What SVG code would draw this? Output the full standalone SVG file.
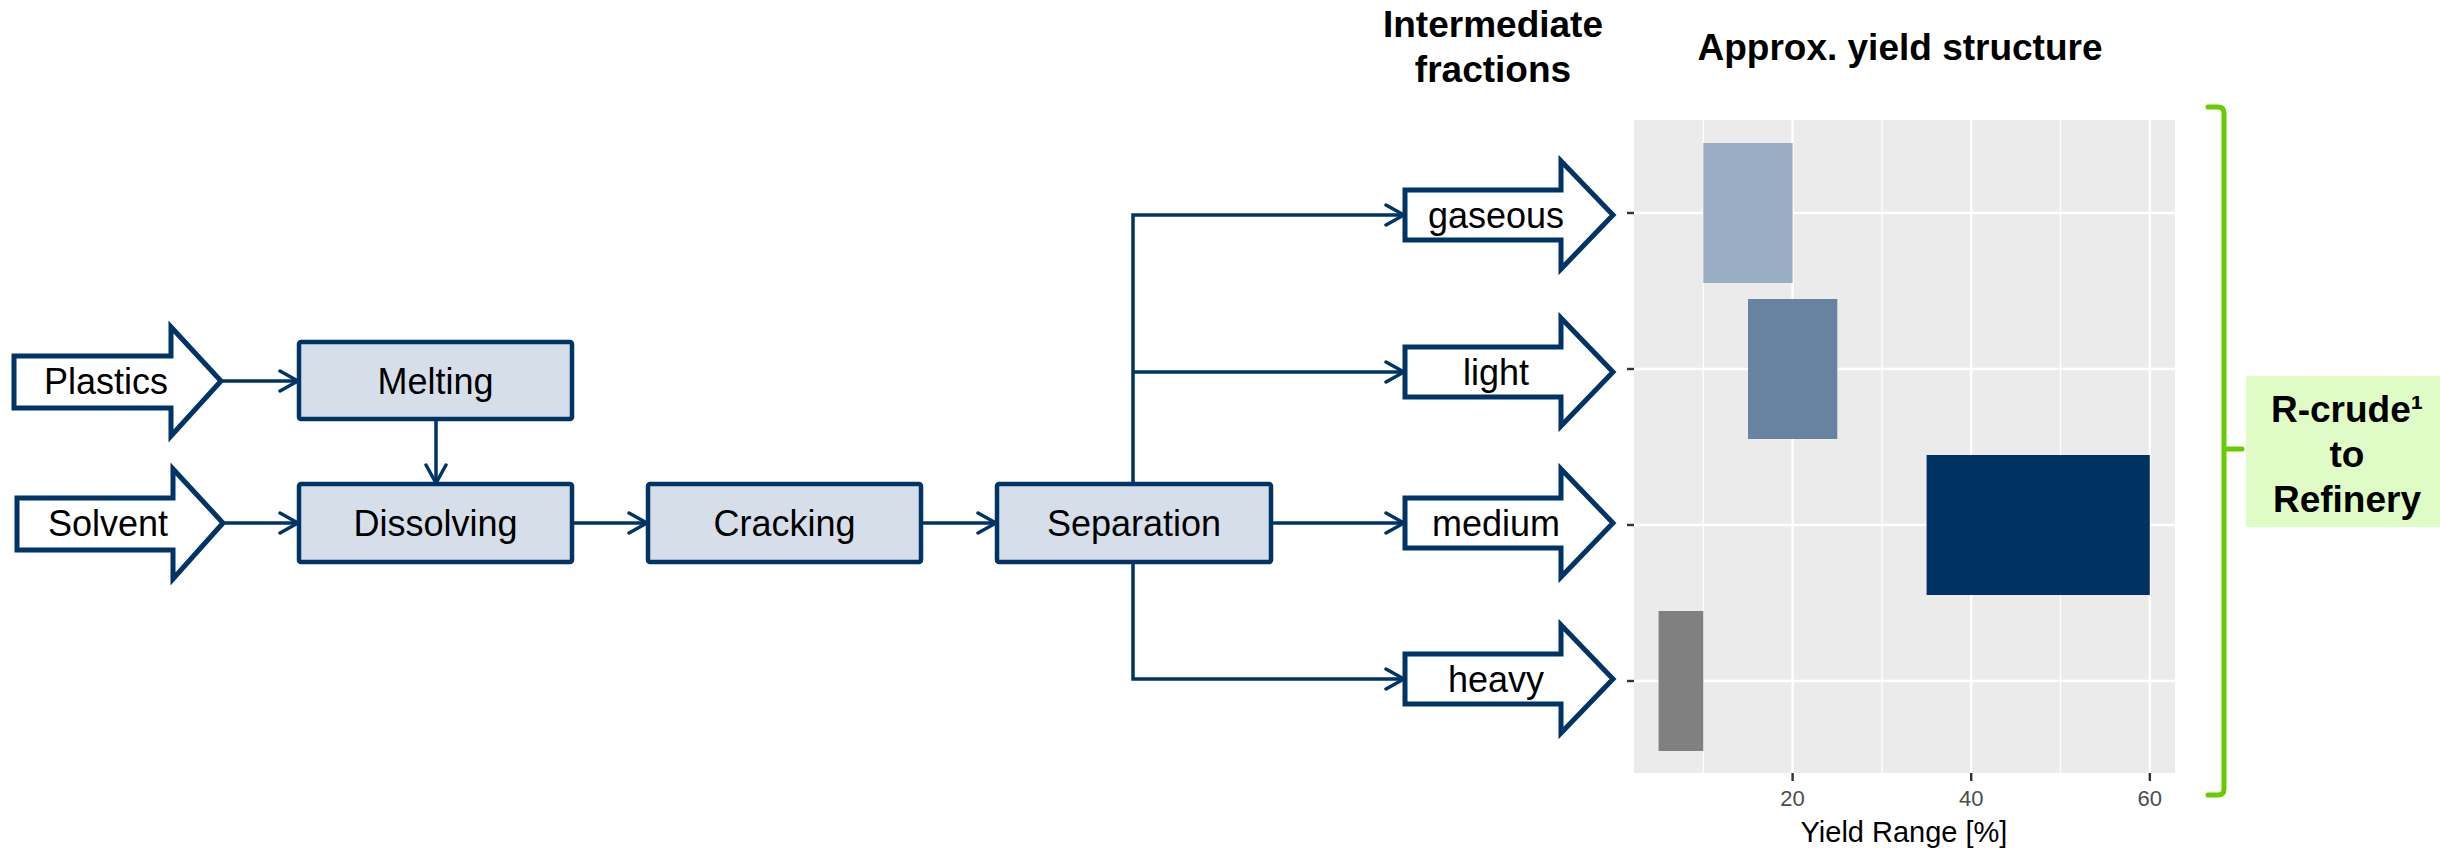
<svg xmlns="http://www.w3.org/2000/svg" width="2440" height="850" viewBox="0 0 2440 850">
<style>
.box{fill:#D6DFE9;stroke:#003366;stroke-width:4.5}
.arr{fill:#FFFFFF;stroke:#003366;stroke-width:5;stroke-linejoin:miter}
.lbl{font-family:"Liberation Sans",Arial,sans-serif;font-size:36px;fill:#000;text-anchor:middle}
.ttl{font-family:"Liberation Sans",Arial,sans-serif;font-size:37px;font-weight:bold;fill:#000;text-anchor:middle}
.con{fill:none;stroke:#003366;stroke-width:3.5;stroke-linejoin:miter}
.gmaj{stroke:#FFFFFF;stroke-width:2.4}
.gmin{stroke:#FFFFFF;stroke-width:1.2}
.tick{stroke:#333333;stroke-width:2.4}
.tl{font-family:"Liberation Sans",Arial,sans-serif;font-size:22px;fill:#4D4D4D;text-anchor:middle}
</style>
<defs>
<marker id="ah" viewBox="0 0 24 24" markerWidth="24" markerHeight="24" refX="21" refY="12" orient="auto" markerUnits="userSpaceOnUse">
<path d="M3,2 L21,12 L3,22" fill="none" stroke="#003366" stroke-width="3.5" stroke-linecap="round" stroke-linejoin="miter"/>
</marker>
</defs>
<rect width="2440" height="850" fill="#FFFFFF"/>

<g id="titles">
<text class="ttl" x="1493" y="37">Intermediate</text>
<text class="ttl" x="1493" y="82">fractions</text>
<text class="ttl" x="1900" y="60">Approx. yield structure</text>
</g>

<g id="connectors">
<path class="con" d="M221,381 L298,381" marker-end="url(#ah)"/>
<path class="con" d="M223,523 L298,523" marker-end="url(#ah)"/>
<path class="con" d="M436,419 L436,483" marker-end="url(#ah)"/>
<path class="con" d="M572,523 L647,523" marker-end="url(#ah)"/>
<path class="con" d="M921,523 L996,523" marker-end="url(#ah)"/>
<path class="con" d="M1133,484 L1133,215 L1404,215" marker-end="url(#ah)"/>
<path class="con" d="M1133,372 L1404,372" marker-end="url(#ah)"/>
<path class="con" d="M1271,523 L1404,523" marker-end="url(#ah)"/>
<path class="con" d="M1133,562 L1133,679 L1404,679" marker-end="url(#ah)"/>
</g>

<g id="plastics">
<polygon class="arr" points="14,356 171,356 171,327 221,381 171,436 171,408 14,408"/>
<text class="lbl" x="106" y="394">Plastics</text>
</g>
<g id="solvent">
<polygon class="arr" points="17,498 173,498 173,469 223,523 173,579 173,550 17,550"/>
<text class="lbl" x="108" y="536">Solvent</text>
</g>
<g id="melting">
<rect class="box" x="299" y="342" width="273" height="77" rx="2"/>
<text class="lbl" x="435.5" y="394">Melting</text>
</g>
<g id="dissolving">
<rect class="box" x="299" y="484" width="273" height="78" rx="2"/>
<text class="lbl" x="435.5" y="536">Dissolving</text>
</g>
<g id="cracking">
<rect class="box" x="648" y="484" width="273" height="78" rx="2"/>
<text class="lbl" x="784.5" y="536">Cracking</text>
</g>
<g id="separation">
<rect class="box" x="997" y="484" width="274" height="78" rx="2"/>
<text class="lbl" x="1134" y="536">Separation</text>
</g>

<g id="gaseous">
<polygon class="arr" points="1405,190 1561,190 1561,161 1613,215 1561,269 1561,240 1405,240"/>
<text class="lbl" x="1496" y="228">gaseous</text>
</g>
<g id="light">
<polygon class="arr" points="1405,347 1561,347 1561,318 1613,372 1561,426 1561,397 1405,397"/>
<text class="lbl" x="1496" y="385">light</text>
</g>
<g id="medium">
<polygon class="arr" points="1405,498 1561,498 1561,469 1613,523 1561,577 1561,548 1405,548"/>
<text class="lbl" x="1496" y="536">medium</text>
</g>
<g id="heavy">
<polygon class="arr" points="1405,654 1561,654 1561,625 1613,679 1561,733 1561,704 1405,704"/>
<text class="lbl" x="1496" y="692">heavy</text>
</g>

<g id="chart">
<rect x="1634" y="120" width="541" height="653" fill="#EBEBEB"/>
<line class="gmin" x1="1703.3" y1="120" x2="1703.3" y2="773"/>
<line class="gmin" x1="1882" y1="120" x2="1882" y2="773"/>
<line class="gmin" x1="2060.5" y1="120" x2="2060.5" y2="773"/>
<line class="gmaj" x1="1792.6" y1="120" x2="1792.6" y2="773"/>
<line class="gmaj" x1="1971.2" y1="120" x2="1971.2" y2="773"/>
<line class="gmaj" x1="2149.8" y1="120" x2="2149.8" y2="773"/>
<line class="gmaj" x1="1634" y1="213" x2="2175" y2="213"/>
<line class="gmaj" x1="1634" y1="369" x2="2175" y2="369"/>
<line class="gmaj" x1="1634" y1="525" x2="2175" y2="525"/>
<line class="gmaj" x1="1634" y1="681" x2="2175" y2="681"/>
<rect id="bar-gaseous" x="1703.3" y="143" width="89.3" height="140" fill="#99AEC3"/>
<rect id="bar-light" x="1748" y="299" width="89.3" height="140" fill="#6783A0"/>
<rect id="bar-medium" x="1926.6" y="455" width="223.2" height="140" fill="#003262"/>
<rect id="bar-heavy" x="1658.6" y="611" width="44.7" height="140" fill="#808080"/>
<line class="tick" x1="1627" y1="213" x2="1634" y2="213"/>
<line class="tick" x1="1627" y1="369" x2="1634" y2="369"/>
<line class="tick" x1="1627" y1="525" x2="1634" y2="525"/>
<line class="tick" x1="1627" y1="681" x2="1634" y2="681"/>
<line class="tick" x1="1792.6" y1="773" x2="1792.6" y2="781"/>
<line class="tick" x1="1971.2" y1="773" x2="1971.2" y2="781"/>
<line class="tick" x1="2149.8" y1="773" x2="2149.8" y2="781"/>
<text class="tl" x="1792.6" y="806">20</text>
<text class="tl" x="1971.2" y="806">40</text>
<text class="tl" x="2149.8" y="806">60</text>
<text x="1904" y="842" font-family="'Liberation Sans',Arial,sans-serif" font-size="29" fill="#000" text-anchor="middle">Yield Range [%]</text>
</g>

<g id="bracket">
<path d="M2208,107 L2218,107 Q2224,107 2224,113 L2224,789 Q2224,795 2218,795 L2208,795 M2224,449 L2242,449" fill="none" stroke="#66CC00" stroke-width="5" stroke-linecap="round"/>
</g>

<g id="rcrude">
<rect x="2246" y="376" width="194" height="151" fill="#DFFCC6"/>
<text class="ttl" x="2347" y="422">R-crude¹</text>
<text class="ttl" x="2347" y="467">to</text>
<text class="ttl" x="2347" y="512">Refinery</text>
</g>
</svg>
